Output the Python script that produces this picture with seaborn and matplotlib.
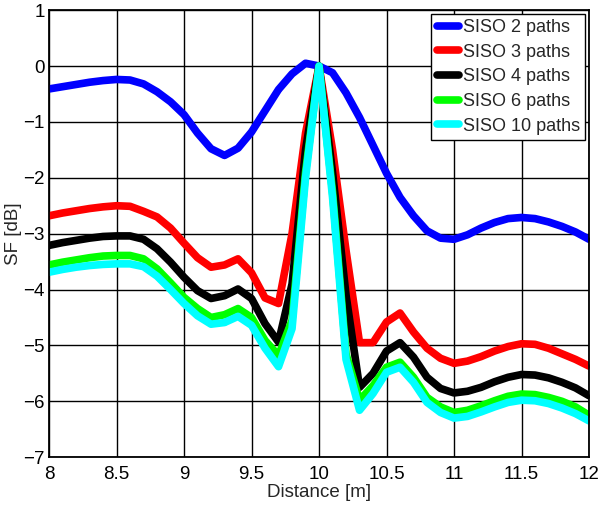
import matplotlib
matplotlib.use("Agg")
import matplotlib.pyplot as plt
import seaborn as sns
import pandas as pd

distance = [8.0, 8.1, 8.2, 8.3, 8.4, 8.5, 8.6, 8.7, 8.8, 8.9,
            9.0, 9.1, 9.2, 9.3, 9.4, 9.5, 9.6, 9.7, 9.8, 9.9,
            10.0, 10.1, 10.2, 10.3, 10.4, 10.5, 10.6, 10.7, 10.8, 10.9,
            11.0, 11.1, 11.2, 11.3, 11.4, 11.5, 11.6, 11.7, 11.8, 11.9, 12.0]

siso2 = [-0.41, -0.37, -0.33, -0.29, -0.26, -0.24, -0.25, -0.32, -0.46, -0.64,
         -0.87, -1.20, -1.48, -1.60, -1.47, -1.18, -0.80, -0.42, -0.14, 0.05,
         0.00, -0.12, -0.48, -0.92, -1.42, -1.92, -2.35, -2.68, -2.95, -3.08,
         -3.10, -3.02, -2.90, -2.80, -2.73, -2.71, -2.73, -2.79, -2.87, -2.97, -3.10]

siso3 = [-2.68, -2.63, -2.59, -2.55, -2.52, -2.50, -2.51, -2.60, -2.70, -2.90,
         -3.17, -3.43, -3.60, -3.56, -3.45, -3.70, -4.15, -4.25, -3.00, -1.20,
         0.00, -1.50, -3.30, -4.95, -4.95, -4.58, -4.42, -4.76, -5.05, -5.23,
         -5.32, -5.28, -5.20, -5.10, -5.02, -4.97, -4.98, -5.05, -5.15, -5.25, -5.37]

siso4 = [-3.21, -3.16, -3.12, -3.08, -3.05, -3.04, -3.04, -3.10, -3.27, -3.51,
         -3.78, -4.02, -4.16, -4.11, -3.99, -4.16, -4.61, -4.94, -3.90, -1.50,
         0.00, -1.90, -4.10, -5.75, -5.50, -5.10, -4.95, -5.21, -5.57, -5.77,
         -5.85, -5.82, -5.75, -5.65, -5.57, -5.52, -5.53, -5.58, -5.66, -5.76, -5.90]

siso6 = [-3.56, -3.51, -3.47, -3.43, -3.40, -3.39, -3.39, -3.45, -3.63, -3.88,
         -4.14, -4.34, -4.50, -4.45, -4.34, -4.50, -4.91, -5.18, -4.55, -1.90,
         0.00, -2.25, -5.15, -5.98, -5.72, -5.39, -5.30, -5.57, -5.93, -6.10,
         -6.20, -6.16, -6.08, -5.99, -5.91, -5.87, -5.88, -5.93, -6.00, -6.10, -6.25]

siso10 = [-3.69, -3.64, -3.60, -3.57, -3.55, -3.54, -3.54, -3.59, -3.76, -4.00,
          -4.25, -4.47, -4.62, -4.59, -4.48, -4.64, -5.05, -5.38, -4.70, -2.00,
          0.00, -2.35, -5.25, -6.16, -5.86, -5.48, -5.39, -5.66, -6.02, -6.20,
          -6.30, -6.27, -6.19, -6.10, -6.02, -5.98, -5.99, -6.04, -6.12, -6.22, -6.35]

labels = ["SISO 2 paths", "SISO 3 paths", "SISO 4 paths", "SISO 6 paths", "SISO 10 paths"]
colors = ["#0000FF", "#FF0000", "#000000", "#00FF00", "#00FFFF"]
x_ticks = [8, 8.5, 9, 9.5, 10, 10.5, 11, 11.5, 12]
x_tick_labels = ["8", "8.5", "9", "9.5", "10", "10.5", "11", "11.5", "12"]
y_ticks = [1, 0, -1, -2, -3, -4, -5, -6, -7]

series = [siso2, siso3, siso4, siso6, siso10]
frames = []
for lab, vals in zip(labels, series):
    frames.append(pd.DataFrame({"Distance": distance, "SF": vals, "Series": lab}))
df = pd.concat(frames, ignore_index=True)

sns.set_style("white")
narrow = ["Liberation Sans Narrow", "Liberation Sans", "DejaVu Sans"]
regular = ["Liberation Sans", "DejaVu Sans"]
plt.rcParams["font.family"] = narrow

fig = plt.figure(figsize=(5.98, 5.08), dpi=100)
ax = fig.add_axes([0.082, 0.100, 0.903, 0.880])

sns.lineplot(data=df, x="Distance", y="SF", hue="Series", hue_order=labels,
             palette=colors, sort=False, linewidth=5.5, marker=".",
             markersize=6, markeredgewidth=0, ax=ax)

ax.set_xlim(8, 12)
ax.set_ylim(-7, 1)
ax.set_xticks(x_ticks)
ax.set_xticklabels(x_tick_labels)
ax.set_yticks(y_ticks)
ax.grid(True, color="black", linewidth=1.0, linestyle="-")
ax.set_axisbelow(True)
for sp in ax.spines.values():
    sp.set_color("black")
    sp.set_linewidth(1.3)
ax.tick_params(axis="x", pad=6)
ax.tick_params(axis="y", pad=3)
ax.tick_params(axis="both", direction="in", length=4, width=1, colors="black",
               labelsize=13.5)
ax.set_xlabel("Distance [m]", fontsize=13.5, labelpad=1)
ax.set_ylabel("SF [dB]", fontsize=13.5)
ax.yaxis.set_label_coords(-0.05, 0.5)

leg = ax.legend(loc="upper right", prop={"family": regular, "size": 13},
                frameon=True, fancybox=False,
                framealpha=1, edgecolor="black", handlelength=1.25,
                handletextpad=0.2, borderpad=0.3, labelspacing=0.42,
                borderaxespad=0.2)
leg.get_frame().set_linewidth(1.0)

fig.savefig("out.png", dpi=100)
